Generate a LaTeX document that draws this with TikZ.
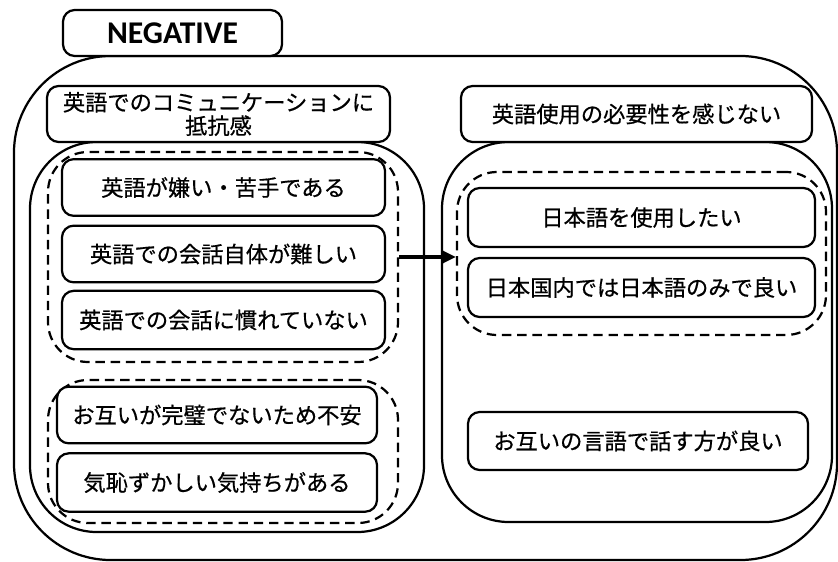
\documentclass[tikz,border=0pt]{standalone}
\usepackage{fontspec}
\usepackage{tikz}
\usetikzlibrary{arrows.meta}
\newfontfamily\cjk[BoldFont={Noto Sans CJK JP},BoldFeatures={FakeBold=0.6}]{Noto Sans CJK JP}
\newfontfamily\latn{Carlito}

\begin{document}
\begin{tikzpicture}[x=0.03cm,y=-0.03cm,
  line width=1.9pt,
  item/.style={draw, rounded corners=0.35cm, fill=white, font=\cjk\bfseries\fontsize{19}{23}\selectfont, align=center},
  group/.style={draw, dash pattern=on 8pt off 5pt, rounded corners=1.2cm},
  pane/.style={draw, rounded corners=2cm}]
\useasboundingbox (0,0) rectangle (838,562);

\node[draw, rounded corners=2.9cm, minimum width=24.69cm, minimum height=15.12cm] (frame) at (425.5,308) {};
\node[draw, rounded corners=0.35cm, fill=white, minimum width=6.57cm, minimum height=1.38cm, font=\latn\bfseries\fontsize{27}{30}\selectfont] (tab) at (172.5,33) {NEGATIVE};

\node[pane, minimum width=11.82cm, minimum height=11.7cm] (left) at (227,337) {};
\node[pane, minimum width=11.7cm, minimum height=11.4cm] (right) at (637,332) {};

\node[item, minimum width=10.29cm, minimum height=1.68cm] (lhead) at (218.5,114) {英語でのコミュニケーションに\\[-3pt]抵抗感};
\node[item, minimum width=10.53cm, minimum height=1.68cm] (rhead) at (636.5,114) {英語使用の必要性を感じない};

\node[group, minimum width=10.5cm, minimum height=6.3cm] (g1) at (223,257) {};
\node[group, minimum width=10.5cm, minimum height=4.29cm] (g2) at (223,451.5) {};
\node[group, minimum width=11.07cm, minimum height=4.89cm] (g3) at (641.5,253.5) {};

\node[item, minimum width=9.69cm, minimum height=1.7cm] (b1) at (223.5,187.5) {英語が嫌い・苦手である};
\node[item, minimum width=9.69cm, minimum height=1.7cm] (b2) at (223.5,254) {英語での会話自体が難しい};
\node[item, minimum width=9.69cm, minimum height=1.75cm] (b3) at (223.5,320) {英語での会話に慣れていない};
\node[item, minimum width=9.6cm, minimum height=1.7cm] (b4) at (217,415) {お互いが完璧でないため不安};
\node[item, minimum width=9.6cm, minimum height=1.75cm] (b5) at (217,482.5) {気恥ずかしい気持ちがある};
\node[item, minimum width=10.41cm, minimum height=1.77cm] (b6) at (641.5,217.5) {日本語を使用したい};
\node[item, minimum width=10.41cm, minimum height=1.77cm] (b7) at (641.5,287.5) {日本国内では日本語のみで良い};
\node[item, minimum width=10.2cm, minimum height=1.74cm] (b8) at (638,441) {お互いの言語で話す方が良い};

\draw[line width=3pt, -{Triangle[length=11pt,width=10pt]}] (g1.east) -- (g1.east -| g3.west);
\end{tikzpicture}
\end{document}
